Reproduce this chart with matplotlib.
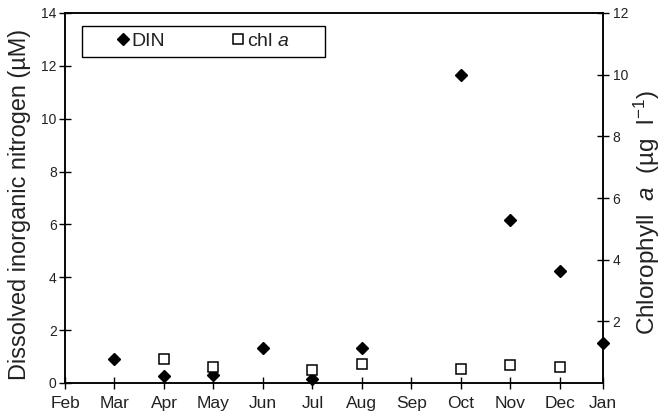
import matplotlib
matplotlib.use("Agg")
import matplotlib.pyplot as plt
from matplotlib.lines import Line2D
from matplotlib.patches import Rectangle

plt.rcParams['font.family'] = ['Liberation Sans', 'DejaVu Sans']
plt.rcParams['mathtext.fontset'] = 'custom'
plt.rcParams['mathtext.rm'] = 'Liberation Sans'
plt.rcParams['mathtext.it'] = 'Liberation Sans:italic'

# Axis months (Feb .. Jan)
month_labels = ['Feb', 'Mar', 'Apr', 'May', 'Jun', 'Jul', 'Aug', 'Sep', 'Oct', 'Nov', 'Dec', 'Jan']

# DIN (µM), left axis
din_months = ['Mar', 'Apr', 'May', 'Jun', 'Jul', 'Aug', 'Oct', 'Nov', 'Dec', 'Jan']
din_values = [0.91, 0.26, 0.30, 1.32, 0.17, 1.32, 11.65, 6.17, 4.24, 1.51]

# chl a (µg l-1), right axis
chl_months = ['Apr', 'May', 'Jul', 'Aug', 'Oct', 'Nov', 'Dec']
chl_values = [0.78, 0.52, 0.42, 0.62, 0.45, 0.58, 0.52]

# x positions: month index, the final Jan sits at the right end of the axis
x_end = 10.87
month_pos = {m: float(i) for i, m in enumerate(month_labels[:-1])}
month_pos['Jan'] = x_end

W, H = 661, 418
fig = plt.figure(figsize=(W/100, H/100), dpi=100)
ax = fig.add_axes([65/W, 35/H, (603-65)/W, (383-13)/H])
ax2 = ax.twinx()

din_x = [month_pos[m] for m in din_months]
chl_x = [month_pos[m] for m in chl_months]

ax.plot(din_x, din_values, linestyle='none', marker='D', markersize=6.3,
        color='black', zorder=3, clip_on=False)
ax2.plot(chl_x, chl_values, linestyle='none', marker='s', markersize=7.5,
         markerfacecolor='white', markeredgecolor='black', markeredgewidth=1.1,
         zorder=3, clip_on=False)

ax.set_xlim(0, x_end)
ax.set_ylim(0, 14)
ax2.set_ylim(0, 12)

ax.set_xticks([month_pos[m] for m in month_labels])
ax.set_xticklabels(month_labels, fontsize=12.5, color='#222222')
ax.set_yticks(range(0, 15, 2))
ax.tick_params(axis='y', labelsize=10, colors='black', labelcolor='#222222',
               direction='inout', length=8, width=1, pad=2)
ax.tick_params(axis='x', direction='inout', length=9, width=1, pad=5)
ax2.set_yticks(range(2, 13, 2))
ax2.tick_params(axis='y', labelsize=10, labelcolor='#222222',
                direction='inout', length=8, width=1, pad=3)

for a in (ax, ax2):
    for s in a.spines.values():
        s.set_linewidth(1.1)
        s.set_color('black')

ax.set_ylabel('Dissolved inorganic nitrogen (µM)', fontsize=16.9, color='#222222',
              rotation=90, va='center', rotation_mode='anchor')
ax.yaxis.set_label_coords((20-65)/538, (383-204)/370)
ax2.set_ylabel('Chlorophyll  $a$  (µg  l$^{\\mathregular{-1}}$)', fontsize=17.5,
               color='#222222', rotation=90, va='center', rotation_mode='anchor')
ax2.yaxis.set_label_coords((647-65)/538, (383-213)/370)

# Ensure squares draw above diamonds
ax2.set_zorder(ax.get_zorder() + 1)
ax2.patch.set_visible(False)

# Legend frame and entries
bx0, bx1, by0, by1 = 82, 325, 26, 57
fig.patches.append(Rectangle((bx0/W, 1 - by1/H), (bx1-bx0)/W, (by1-by0)/H,
                             transform=fig.transFigure, fill=True, facecolor='white',
                             edgecolor='black', linewidth=1.0, zorder=5))
handles = [
    Line2D([], [], linestyle='none', marker='D', markersize=6.3, color='black'),
    Line2D([], [], linestyle='none', marker='s', markersize=7.5,
           markerfacecolor='white', markeredgecolor='black', markeredgewidth=1.1),
]
leg = fig.legend(handles, ['DIN', 'chl $a$'], ncol=2, loc='center',
                 bbox_to_anchor=((bx0+bx1)/2/W, 1 - (by0+by1)/2/H),
                 fontsize=14, frameon=False,
                 handlelength=0.5, handletextpad=0.2, borderpad=0.2,
                 columnspacing=3.5, labelcolor='#222222')
leg.set_zorder(6)

fig.savefig('out.png', dpi=100)
